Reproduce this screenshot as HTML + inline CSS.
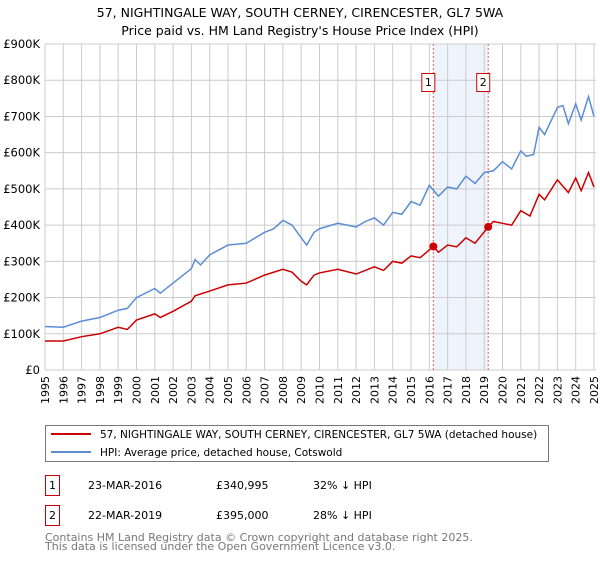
<!DOCTYPE html>
<html><head><meta charset="utf-8"><style>
body{margin:0;background:#fff;font-family:"DejaVu Sans","Liberation Sans",sans-serif;}
svg text{font-family:"DejaVu Sans","Liberation Sans",sans-serif;}
</style></head><body>
<svg id="c" width="600" height="560" xmlns="http://www.w3.org/2000/svg">
<text x="300" y="17" text-anchor="middle" font-size="12.5">57, NIGHTINGALE WAY, SOUTH CERNEY, CIRENCESTER, GL7 5WA</text>
<text x="300" y="35" text-anchor="middle" font-size="12.5">Price paid vs. HM Land Registry's House Price Index (HPI)</text>
<g id="plot"></g>
<g>
<rect x="45.5" y="425.5" width="503" height="36" fill="#fff" stroke="#777"/>
<line x1="51" y1="434" x2="91" y2="434" stroke="#cc0000" stroke-width="2"/>
<text x="100" y="438" font-size="10.5">57, NIGHTINGALE WAY, SOUTH CERNEY, CIRENCESTER, GL7 5WA (detached house)</text>
<line x1="51" y1="452" x2="91" y2="452" stroke="#5b8dd6" stroke-width="2"/>
<text x="100" y="456" font-size="10.5">HPI: Average price, detached house, Cotswold</text>
</g>
<g font-size="11">
<rect x="45.5" y="475.5" width="14" height="20" fill="#fff" stroke="#cc0000"/>
<text x="52.5" y="489" text-anchor="middle">1</text>
<text x="88" y="489">23-MAR-2016</text><text x="216" y="489">£340,995</text><text x="313" y="489">32% ↓ HPI</text>
<rect x="45.5" y="505.5" width="14" height="20" fill="#fff" stroke="#cc0000"/>
<text x="52.5" y="519" text-anchor="middle">2</text>
<text x="88" y="519">22-MAR-2019</text><text x="216" y="519">£395,000</text><text x="313" y="519">28% ↓ HPI</text>
</g>
<text x="45" y="541" font-size="11" fill="#777">Contains HM Land Registry data © Crown copyright and database right 2025.</text>
<text x="45" y="550" font-size="11" fill="#777">This data is licensed under the Open Government Licence v3.0.</text>
</svg>
<script>
const hpiYears=[1995,1996,1997,1998,1999,1999.5,2000,2001,2001.3,2002,2003,2003.2,2003.5,2004,2005,2006,2007,2007.5,2008,2008.5,2009,2009.3,2009.7,2010,2011,2012,2012.5,2013,2013.5,2014,2014.5,2015,2015.5,2016,2016.5,2017,2017.5,2018,2018.5,2019,2019.5,2020,2020.5,2021,2021.3,2021.7,2022,2022.3,2023,2023.3,2023.6,2024,2024.3,2024.7,2025];
const hpiValues=[120,118,135,145,165,170,200,225,212,240,280,305,290,318,345,350,380,390,413,400,365,345,380,390,405,395,410,420,400,435,430,465,455,510,480,505,500,535,515,545,550,575,555,605,590,595,670,650,725,730,680,735,690,755,700];
const propYears=[1995,1996,1997,1998,1999,1999.5,2000,2001,2001.3,2002,2003,2003.2,2004,2005,2006,2007,2008,2008.5,2009,2009.3,2009.7,2010,2011,2012,2012.5,2013,2013.5,2014,2014.5,2015,2015.5,2016.22,2016.5,2017,2017.5,2018,2018.5,2019.22,2019.5,2020,2020.5,2021,2021.5,2022,2022.3,2023,2023.6,2024,2024.3,2024.7,2025];
const propValues=[80,80,92,100,118,112,138,155,145,162,190,205,218,235,240,262,278,270,245,235,262,268,278,265,275,285,275,300,295,315,310,341,325,345,340,365,350,395,410,405,400,440,425,485,470,525,490,530,495,545,505];
const saleLabels=["1","2"];
const saleYears=[2016.22,2019.22];
const saleValues=[340.995,395];
const yTicks=[0,100,200,300,400,500,600,700,800,900];
const yTickLabels=["£0","£100K","£200K","£300K","£400K","£500K","£600K","£700K","£800K","£900K"];
const xTickYears=[];for(let y=1995;y<=2025;y++)xTickYears.push(y);

const L=45,R=594,T=44,B=370;
const X=y=>L+(y-1995)/30*(R-L);
const Y=v=>B-v/900*(B-T);
const NS="http://www.w3.org/2000/svg";
const g=document.getElementById('plot');
function mk(t,a){const e=document.createElementNS(NS,t);for(const k in a)e.setAttribute(k,a[k]);g.appendChild(e);return e;}
const band=mk('rect',{x:X(saleYears[0]),y:T,width:X(saleYears[1])-X(saleYears[0]),height:B-T,fill:'#eef3fc'});


xTickYears.forEach(y=>{
 const l=mk('line',{x1:X(y),x2:X(y),y1:T,y2:B,stroke:'#ccc','stroke-width':1});
 
 
 const t=mk('text',{x:0,y:0,'font-size':11,'text-anchor':'end',transform:`translate(${X(y)+4},${B+6}) rotate(-90)`});
 t.textContent=y;
 
 
});
yTicks.forEach((v,i)=>{
 const l=mk('line',{x1:L,x2:R+2,y1:Y(v),y2:Y(v),stroke:'#ccc','stroke-width':1});
 
 
 const t=mk('text',{x:40,y:Y(v)+4,'font-size':11.5,'text-anchor':'end'});
 t.textContent=yTickLabels[i];
 
 
});
const ax=mk('line',{x1:L,x2:L,y1:T,y2:B,stroke:'#ccc'});


saleYears.forEach((y,i)=>{
 const l=mk('line',{x1:X(y),x2:X(y),y1:T,y2:B,stroke:'#e06060','stroke-dasharray':'2,2'});
 
 
 const r=mk('rect',{x:X(y)-11.5,y:73.5,width:13,height:18,fill:'#fff',stroke:'#cc0000'});
 
 
 const t=mk('text',{x:X(y)-5,y:86,'font-size':11,'text-anchor':'middle'});
 t.textContent=saleLabels[i];
 
 
});
const hp=mk('polyline',{points:hpiYears.map((y,i)=>X(y)+','+Y(hpiValues[i])).join(' '),fill:'none',stroke:'#5b8dd6','stroke-width':1.5});


const pp=mk('polyline',{points:propYears.map((y,i)=>X(y)+','+Y(propValues[i])).join(' '),fill:'none',stroke:'#cc0000','stroke-width':1.5});


saleYears.forEach((y,i)=>{
 const c=mk('circle',{cx:X(y),cy:Y(saleValues[i]),r:4,fill:'#cc0000'});
 
 
});
</script>
</body></html>
